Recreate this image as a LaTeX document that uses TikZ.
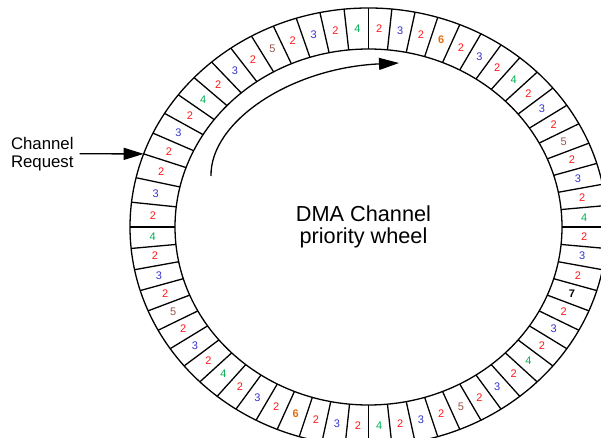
\documentclass[tikz,border=0pt]{standalone}
\usepackage{fontspec}
\setmainfont{Liberation Sans}
\usetikzlibrary{arrows.meta}
\definecolor{c2}{RGB}{255,25,25}
\definecolor{c3}{RGB}{51,51,204}
\definecolor{c4}{RGB}{0,176,80}
\definecolor{c5}{RGB}{150,85,75}
\definecolor{c6}{RGB}{228,108,10}
\definecolor{c7}{RGB}{0,0,0}
\pgfmathdeclarefunction{spang}{1}{%
  \pgfmathparse{ifthenelse(#1<12.5, 90+(12-#1)*5.875, ifthenelse(#1<60.5, 90-(#1-12)*5.625, -180-(#1-60)*6.5))}%
}
\tikzset{
  ring/.style={draw, line width=1.3pt},
  spoke/.style={line width=1.3pt},
  seglab/.style={font=\fontsize{11}{13}\selectfont, inner sep=0pt},
  v2/.style={text=c2}, v3/.style={text=c3}, v4/.style={text=c4}, v5/.style={text=c5},
  v6/.style={text=c6, font=\fontsize{11}{13}\selectfont\bfseries},
  v7/.style={text=c7, font=\fontsize{11}{13}\selectfont\bfseries},
  arr/.style={-{Triangle[length=20pt,width=12pt]}, line width=1.3pt},
  reqtext/.style={font=\fontsize{16.8}{18}\selectfont, align=left, inner sep=0pt, outer xsep=6pt, outer ysep=0pt},
  titletext/.style={font=\fontsize{21.7}{22.5}\selectfont, align=center, inner sep=0pt}
}
\begin{document}
\begin{tikzpicture}[x=1pt, y=-1pt]
\useasboundingbox (0,0) rectangle (601,438);
\clip (0,0) rectangle (601,438);
% ring
\draw[ring] (368.5,227) ellipse [x radius=238.5pt, y radius=219pt];
\draw[ring] (368.5,227) ellipse [x radius=193.5pt, y radius=178pt];
\foreach \k in {0,...,62} {
  \pgfmathsetmacro{\a}{spang(\k)}
  \draw[spoke] ({368.5+238.5*cos(\a)},{227-219*sin(\a)}) -- ({368.5+193.5*cos(\a)},{227-178*sin(\a)});
}
\foreach \v [count=\i] in {2,3,2,4,2,3,2,5,2,3,2,4,2,3,2,6,2,3,2,4,2,3,2,5,2,3,2,4,2,3,2,7,2,3,2,4,2,3,2,5,2,3,2,4,2,3,2,6,2,3,2,4,2,3,2,5,2,3,2,4,2,3,2} {
  \pgfmathsetmacro{\m}{(spang(\i-1)+spang(\i))/2}
  \node[seglab, v\v] (s\i) at ({368.5+216*cos(\m)},{227-198.5*sin(\m)}) {\v};
}
% channel request
\coordinate (start) at ({368.5+238.5*cos(160.5)},{227-219*sin(160.5)});
\node[reqtext, anchor=west] (req) at (5,153.8) {Channel\\Request};
\draw[arr] (req.east) -- (start);
% rotation arrow
\coordinate (as) at (211,176);
\coordinate (ae) at (399,63);
\draw[arr] (as) .. controls (210,122) and (290,68) .. (ae);
% title
\node[titletext] (dma) at (363.5,227) {DMA Channel\\priority wheel};
\end{tikzpicture}
\end{document}
